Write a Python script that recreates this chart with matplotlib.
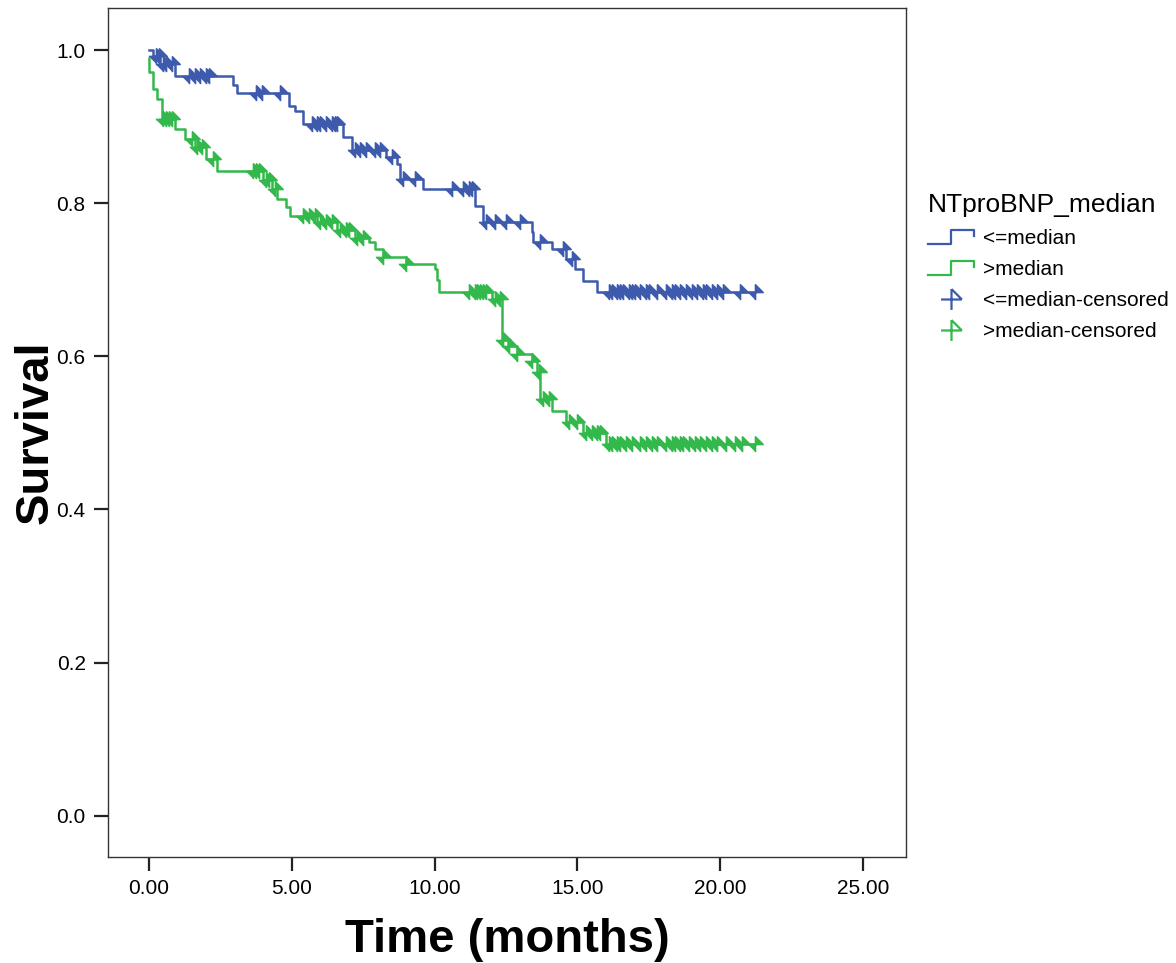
import numpy as np
import matplotlib
matplotlib.use('Agg')
import matplotlib.pyplot as plt
from matplotlib.path import Path
from matplotlib.lines import Line2D
from matplotlib.legend_handler import HandlerBase

plt.rcParams['font.family'] = ['Liberation Sans', 'DejaVu Sans']

# Kaplan-Meier steps (time in months, survival after the step)
blue_times = [0.0, 0.14, 0.4, 0.9, 2.95, 3.1, 4.9, 5.1, 5.4, 6.8, 7.1, 8.3, 8.7, 8.8, 9.6,
              11.4, 11.7, 13.4, 13.45, 14.1, 14.6, 14.9, 15.2, 15.7]
blue_surv = [1.0, 0.992, 0.982, 0.966, 0.955, 0.944, 0.927, 0.92, 0.903, 0.886, 0.87, 0.86,
             0.851, 0.831, 0.818, 0.796, 0.776, 0.763, 0.75, 0.74, 0.727, 0.714, 0.698, 0.684]
blue_cens = [0.25, 0.35, 0.5, 0.6, 0.8, 1.4, 1.6, 1.8, 2.0, 2.1, 3.75, 3.95, 4.6, 5.7, 5.9,
             6.0, 6.2, 6.4, 6.5, 6.6, 7.2, 7.4, 7.6, 7.9, 8.1, 8.5, 8.9, 9.3, 10.6, 11.0, 11.2,
             11.3, 11.8, 12.1, 12.5, 13.0, 13.7, 14.5, 14.8, 16.1, 16.2, 16.4, 16.5, 16.6,
             16.8, 16.9, 17.0, 17.2, 17.4, 17.5, 17.8, 18.1, 18.3, 18.4, 18.6, 18.8, 19.0,
             19.2, 19.4, 19.5, 19.7, 19.9, 20.1, 20.7, 21.2]

green_times = [0.0, 0.02, 0.15, 0.3, 0.45, 0.9, 1.25, 1.6, 2.0, 2.4, 4.0, 4.3, 4.5, 4.8, 4.95,
               5.9, 6.6, 7.2, 7.7, 7.9, 8.2, 9.0, 10.0, 10.1, 10.15, 12.0, 12.35, 12.37,
               12.57, 12.9, 13.4, 13.6, 13.7, 14.1, 14.6, 15.2, 16.0]
green_surv = [0.99, 0.971, 0.949, 0.936, 0.91, 0.897, 0.884, 0.873, 0.858, 0.842, 0.83,
              0.818, 0.805, 0.795, 0.783, 0.775, 0.765, 0.755, 0.75, 0.74, 0.73, 0.72, 0.714,
              0.70, 0.684, 0.675, 0.642, 0.622, 0.613, 0.603, 0.594, 0.579, 0.544, 0.528,
              0.514, 0.50, 0.485]
green_cens = [0.5, 0.6, 0.7, 0.8, 1.5, 1.7, 1.85, 2.25, 3.65, 3.75, 3.85, 4.1, 4.2, 4.4, 5.4,
              5.6, 5.8, 6.0, 6.2, 6.4, 6.7, 6.9, 7.0, 7.3, 7.5, 8.2, 9.0, 11.2, 11.4, 11.5,
              11.6, 11.7, 11.8, 12.1, 12.3, 12.4, 12.6, 12.9, 13.4, 13.65, 13.8, 14.0, 14.7,
              15.0, 15.3, 15.5, 15.7, 15.8, 16.1, 16.2, 16.4, 16.5, 16.7, 16.9, 17.2, 17.4,
              17.6, 17.8, 18.1, 18.3, 18.4, 18.6, 18.7, 18.9, 19.1, 19.3, 19.5, 19.7, 19.9,
              20.2, 20.5, 20.75, 21.2]

labels = ['<=median', '>median']
colors = ['#3d5aad', '#33b84c']

# SPSS-like censor mark: cross with a flag
cens_marker = Path([(0, -1), (0, 1), (-1, 0), (1, 0), (0, 1), (1, 0)],
                   [Path.MOVETO, Path.LINETO, Path.MOVETO, Path.LINETO, Path.MOVETO, Path.LINETO])
flag_marker = Path([(0, -1), (0, 1), (1, 0), (-1, 0)],
                   [Path.MOVETO, Path.LINETO, Path.LINETO, Path.LINETO])


class StepHandler(HandlerBase):
    def create_artists(self, legend, orig_handle, xdescent, ydescent, width, height, fontsize, trans):
        x0, y0 = -xdescent, -ydescent
        xs = [x0, x0 + 0.5 * width, x0 + 0.5 * width, x0 + width, x0 + width]
        ys = [y0, y0, y0 + height, y0 + height, y0 + 0.55 * height]
        ln = Line2D(xs, ys, color=orig_handle.get_color(), lw=1.6, transform=trans)
        return [ln]


fig = plt.figure(figsize=(11.76, 9.63), dpi=100)
ax = fig.add_axes([0.0918, 0.11, 0.6786, 0.8817])

groups = [(blue_times, blue_surv, blue_cens), (green_times, green_surv, green_cens)]
step_handles = []
cens_handles = []
for (t, s, c), col, lab in zip(groups, colors, labels):
    t = np.array(t)
    s = np.array(s)
    c = np.array(c)
    tt = np.append(t, c.max())
    ss = np.append(s, s[-1])
    ln, = ax.step(tt, ss, where='post', color=col, lw=1.8)
    step_handles.append(ln)
    idx = np.searchsorted(t, c, side='right') - 1
    ax.plot(c, s[idx], ls='none', marker=flag_marker, markersize=11,
            color=col, markerfacecolor=col, markeredgewidth=1.2)
    cens_handles.append(Line2D([], [], ls='none', marker=cens_marker, markersize=15,
                               color=col, markeredgewidth=1.6))

ax.set_xlim(-1.43, 26.5)
ax.set_ylim(-0.054, 1.055)
ax.set_xticks([0, 5, 10, 15, 20, 25])
ax.set_xticklabels(['%.2f' % v for v in [0, 5, 10, 15, 20, 25]])
ax.set_yticks([0.0, 0.2, 0.4, 0.6, 0.8, 1.0])
ax.set_yticklabels(['%.1f' % v for v in [0.0, 0.2, 0.4, 0.6, 0.8, 1.0]])
ax.tick_params(direction='out', length=10, width=1.6, labelsize=15, pad=6, color='#222222')
for sp in ax.spines.values():
    sp.set_color('#333333')
    sp.set_linewidth(1.0)

ax.set_xlabel('Time (months)', fontsize=34, fontweight='bold', labelpad=14)
ax.set_ylabel('Survival', fontsize=34, fontweight='bold', labelpad=-1)

leg = fig.legend(step_handles + cens_handles,
                 labels + [l + '-censored' for l in labels],
                 title='NTproBNP_median', loc='upper left', bbox_to_anchor=(0.773, 0.819),
                 frameon=False, fontsize=15, title_fontsize=19,
                 handler_map={h: StepHandler() for h in step_handles},
                 handlelength=2.2, handletextpad=0.45, labelspacing=0.58)
leg._legend_box.align = 'left'

fig.savefig('out.png', dpi=100)
